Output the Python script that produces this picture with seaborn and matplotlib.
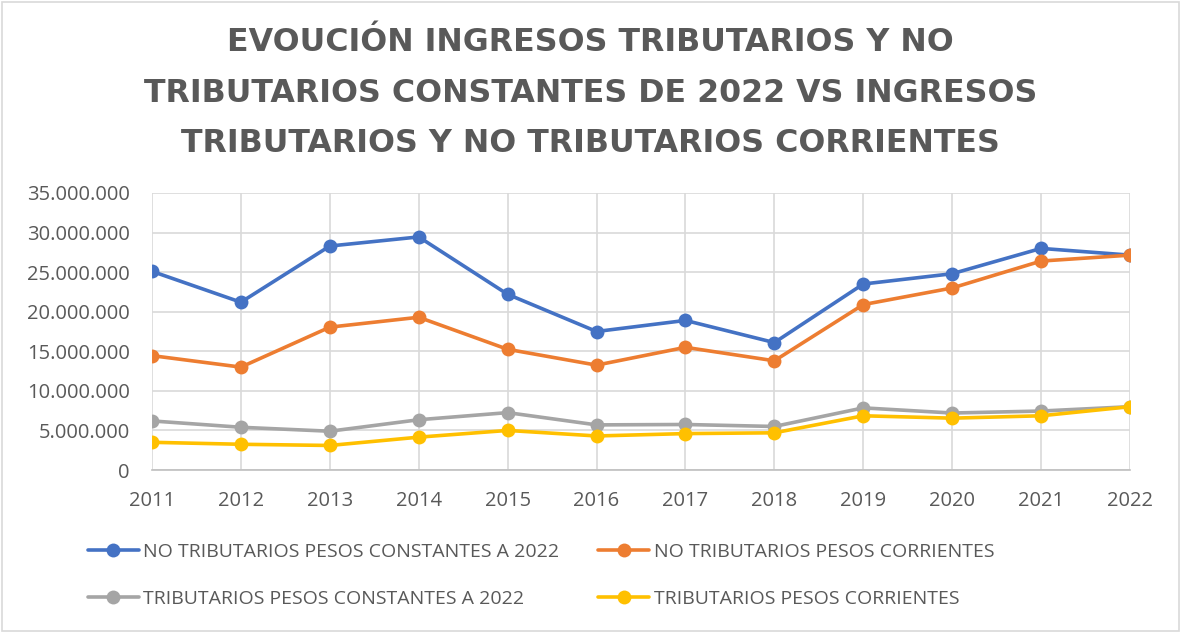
import matplotlib
matplotlib.use("Agg")
import matplotlib.pyplot as plt
import matplotlib.ticker as mticker
from matplotlib.patches import Rectangle
import seaborn as sns
import pandas as pd

years = ["2011", "2012", "2013", "2014", "2015", "2016", "2017", "2018", "2019", "2020", "2021", "2022"]
no_trib_constantes = [25.1e6, 21.2e6, 28.3e6, 29.45e6, 22.2e6, 17.5e6, 18.9e6, 16.1e6, 23.5e6, 24.8e6, 28.0e6, 27.15e6]
no_trib_corrientes = [14.45e6, 13.0e6, 18.05e6, 19.3e6, 15.25e6, 13.25e6, 15.5e6, 13.8e6, 20.9e6, 23.0e6, 26.4e6, 27.15e6]
trib_constantes = [6.2e6, 5.4e6, 4.9e6, 6.35e6, 7.25e6, 5.7e6, 5.75e6, 5.5e6, 7.85e6, 7.2e6, 7.45e6, 8.0e6]
trib_corrientes = [3.5e6, 3.25e6, 3.1e6, 4.15e6, 5.0e6, 4.3e6, 4.6e6, 4.7e6, 6.85e6, 6.55e6, 6.85e6, 8.0e6]

series_names = [
    "NO TRIBUTARIOS PESOS CONSTANTES A 2022",
    "NO TRIBUTARIOS PESOS CORRIENTES",
    "TRIBUTARIOS PESOS CONSTANTES A 2022",
    "TRIBUTARIOS PESOS CORRIENTES",
]
series_values = [no_trib_constantes, no_trib_corrientes, trib_constantes, trib_corrientes]
colors = ["#4472C4", "#ED7D31", "#A5A5A5", "#FFC000"]

title = ("EVOUCIÓN INGRESOS TRIBUTARIOS Y NO\n"
         "TRIBUTARIOS CONSTANTES DE 2022 VS INGRESOS\n"
         "TRIBUTARIOS Y NO TRIBUTARIOS CORRIENTES")

rows = []
for name, vals in zip(series_names, series_values):
    for i, (y, v) in enumerate(zip(years, vals)):
        rows.append({"idx": i, "year": y, "value": v, "serie": name})
df = pd.DataFrame(rows)

sns.set_theme(style="white")
plt.rcParams["font.family"] = ["Open Sans", "DejaVu Sans"]

fig = plt.figure(figsize=(11.81, 6.33), dpi=100)
ax = fig.add_axes([152/1181, 1-470/633, (1130-152)/1181, (470-193)/633])

sns.lineplot(data=df, x="idx", y="value", hue="serie", hue_order=series_names,
             palette=colors, marker="o", markersize=10, markeredgewidth=0,
             linewidth=2.6, ax=ax, legend=True)

ax.set_xlim(0, len(years) - 1)
ax.set_ylim(0, 35e6)
ax.set_xticks(range(len(years)))
ax.set_xticklabels(years)
ax.yaxis.set_major_locator(mticker.MultipleLocator(5e6))
ax.yaxis.set_major_formatter(mticker.FuncFormatter(lambda v, p: f"{int(v):,}".replace(",", ".")))
ax.set_xlabel("")
ax.set_ylabel("")
ax.grid(True, color="#D9D9D9", linewidth=1.2)
ax.set_axisbelow(True)
for s in ["top", "right", "left"]:
    ax.spines[s].set_visible(False)
ax.spines["bottom"].set_color("#BFBFBF")
ax.spines["bottom"].set_linewidth(1.2)
ax.tick_params(axis="both", length=0, labelsize=14.5, colors="#595959")
ax.tick_params(axis="y", pad=16)
ax.tick_params(axis="x", pad=15)

handles, labels = ax.get_legend_handles_labels()
ax.legend_.remove()
order = [0, 2, 1, 3]
fig.legend([handles[i] for i in order], [labels[i] for i in order],
           loc="upper left", bbox_to_anchor=(88/1181, 1-543/633),
           ncol=2, frameon=False, fontsize=14, labelcolor="#595959",
           handlelength=2.6, handletextpad=0.25, columnspacing=2.0, labelspacing=1.5,
           borderaxespad=0, borderpad=0)

fig.text(0.5, 1-93/633, title, ha="center", va="center", fontsize=22.8, fontweight="bold",
         color="#595959", linespacing=1.8, family="DejaVu Sans")

fig.patches.append(Rectangle((2/1181, 2/633), 1177/1181, 629/633, transform=fig.transFigure,
                             fill=False, edgecolor="#D9D9D9", linewidth=1.2))

fig.savefig("out.png", dpi=100, facecolor="white")
